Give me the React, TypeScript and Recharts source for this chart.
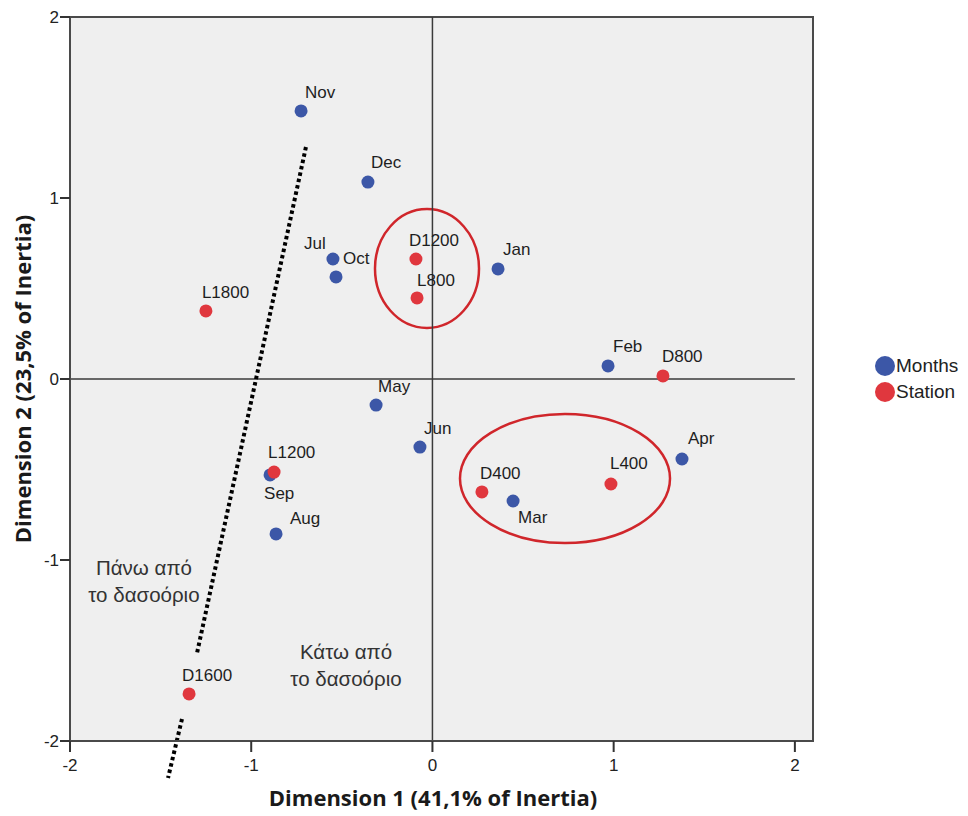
import React from 'react';
import { ScatterChart, Scatter, XAxis, YAxis, CartesianGrid, ReferenceLine, ReferenceArea, ReferenceDot } from 'recharts';

// correspondence analysis: months vs stations
const monthNames = ['Nov', 'Dec', 'Jul', 'Oct', 'Jan', 'Feb', 'May', 'Jun', 'Apr', 'Mar', 'Sep', 'Aug'];
const monthDim1 = [-0.725, -0.356, -0.549, -0.532, 0.362, 0.969, -0.311, -0.069, 1.377, 0.445, -0.896, -0.863];
const monthDim2 = [1.481, 1.088, 0.663, 0.564, 0.608, 0.072, -0.144, -0.376, -0.442, -0.674, -0.53, -0.856];

const stationNames = ['D1200', 'L800', 'L1800', 'D800', 'L1200', 'D400', 'L400', 'D1600'];
const stationDim1 = [-0.091, -0.085, -1.25, 1.272, -0.874, 0.273, 0.985, -1.343];
const stationDim2 = [0.663, 0.448, 0.376, 0.017, -0.514, -0.624, -0.58, -1.74];

const axisTicks = [-2, -1, 0, 1, 2];

// red ellipses around station groups
const groupDim1 = [[-0.317, 0.257], [0.152, 1.311]];
const groupDim2 = [[0.282, 0.939], [-0.906, -0.193]];

// timberline (dotted), drawn in two pieces with a gap near D1600
const timberlineUpper = [{ x: -0.698, y: 1.282 }, { x: -1.299, y: -1.514 }];
const timberlineLower = [{ x: -1.382, y: -1.878 }, { x: -1.459, y: -2.204 }];

const notes = [
  { x: -1.592, y: -1.122, lines: ['Πάνω από', 'το δασοόριο'] },
  { x: -0.477, y: -1.586, lines: ['Κάτω από', 'το δασοόριο'] },
];

const legendItems = [
  { label: 'Months', color: '#3c57a7' },
  { label: 'Station', color: '#e0373e' },
];

const monthData = monthNames.map((name, i) => ({ name, x: monthDim1[i], y: monthDim2[i] }));
const stationData = stationNames.map((name, i) => ({ name, x: stationDim1[i], y: stationDim2[i] }));

// label placement: [dx to text start, dy to text middle]
const labelOffset: Record<string, [number, number]> = {
  Nov: [4, -19], Dec: [3, -20], Jul: [-29, -16], Oct: [7, -19], Jan: [5, -20], Feb: [5, -20],
  May: [2, -19], Jun: [4, -19], Apr: [6, -21], Mar: [5, 16], Sep: [-6, 18], Aug: [14, -16],
  D1200: [-7, -19], L800: [0, -18], L1800: [-4, -19], D800: [-1, -20], L1200: [-6, -20],
  D400: [-2, -19], L400: [-1, -21], D1600: [-7, -19],
};

const FONT = '"Liberation Sans", Arial, sans-serif';
const TITLE_FONT = '"Open Sans", Arial, sans-serif';

const makeDot = (color: string) => (props: any) => {
  const { cx, cy, payload } = props;
  const [dx, dy] = labelOffset[payload.name] || [4, -18];
  return (
    <g>
      <circle cx={cx} cy={cy} r={6.5} fill={color} />
      <text x={cx + dx} y={cy + dy + 6} fontSize={17} fontFamily={FONT} fill="#1e1e1e">{payload.name}</text>
    </g>
  );
};

const Ellipse = (props: any) => {
  const { x, y, width, height } = props;
  return (
    <ellipse cx={x + width / 2} cy={y + height / 2} rx={width / 2} ry={height / 2}
      fill="none" stroke="#d0262b" strokeWidth={2.5} />
  );
};

export default function App() {
  return (
    <div style={{ position: 'absolute', left: 0, top: 0, width: 968, height: 816, background: '#fff' }}>
      <ScatterChart width={968} height={816} margin={{ top: 17, right: 155, bottom: 0, left: 0 }}>
        <CartesianGrid fill="#efefef" horizontal={false} vertical={false} />
        <XAxis type="number" dataKey="x" domain={[-2, 2.1]} ticks={axisTicks} allowDataOverflow
          height={75} tickSize={11} tickMargin={7}
          axisLine={{ stroke: '#4a4a4a', strokeWidth: 2 }} tickLine={{ stroke: '#333', strokeWidth: 2 }}
          tick={{ fill: '#222', fontSize: 17, fontFamily: FONT }}
          label={{
            content: () => (
              <text x={433} y={806} textAnchor="middle" fontSize={22} fontWeight="bold"
                fontFamily={TITLE_FONT} fill="#1a1a1a">Dimension 1 (41,1% of Inertia)</text>
            ),
          }} />
        <YAxis type="number" dataKey="y" domain={[-2, 2]} ticks={axisTicks} allowDataOverflow
          width={70} tickSize={10} tickMargin={1}
          axisLine={{ stroke: '#4a4a4a', strokeWidth: 2 }} tickLine={{ stroke: '#333', strokeWidth: 2 }}
          tick={{ fill: '#222', fontSize: 17, fontFamily: FONT }}
          label={{
            content: () => (
              <text x={0} y={0} transform="translate(31,379) rotate(-90)" textAnchor="middle" fontSize={22}
                fontWeight="bold" fontFamily={TITLE_FONT} fill="#1a1a1a">Dimension 2 (23,5% of Inertia)</text>
            ),
          }} />
        <ReferenceArea x1={-2} x2={2.1} y1={-2} y2={2} fill="none" stroke="#4a4a4a" strokeWidth={2} ifOverflow="visible" />
        <ReferenceLine x={0} stroke="#3a3a3a" strokeWidth={1.5} />
        <ReferenceLine segment={[{ x: -2, y: 0 }, { x: 2, y: 0 }]} stroke="#3a3a3a" strokeWidth={1.5} />
        <ReferenceLine segment={timberlineUpper} stroke="#000" strokeWidth={4} strokeDasharray="3.5 3" ifOverflow="visible" />
        <ReferenceLine segment={timberlineLower} stroke="#000" strokeWidth={4} strokeDasharray="3.5 3" ifOverflow="visible" />
        {groupDim1.map((g, i) => (
          <ReferenceArea key={i} x1={g[0]} x2={g[1]} y1={groupDim2[i][0]} y2={groupDim2[i][1]} shape={<Ellipse />} />
        ))}
        {notes.map((n, i) => (
          <ReferenceDot key={i} x={n.x} y={n.y} r={0} fill="none" stroke="none"
            label={{
              content: (p: any) => {
                const vb = p.viewBox || {};
                const cx = (vb.x || 0) + (vb.width || 0) / 2;
                const cy = (vb.y || 0) + (vb.height || 0) / 2;
                return (
                  <text textAnchor="middle" fontSize={20.5} fontFamily={FONT} fill="#333">
                    <tspan x={cx} y={cy - 7}>{n.lines[0]}</tspan>
                    <tspan x={cx} y={cy + 20}>{n.lines[1]}</tspan>
                  </text>
                );
              },
            }} />
        ))}
        <Scatter name="Months" data={monthData} fill="#3c57a7" isAnimationActive={false} shape={makeDot('#3c57a7')} />
        <Scatter name="Station" data={stationData} fill="#e0373e" isAnimationActive={false} shape={makeDot('#e0373e')} />
      </ScatterChart>
      <div style={{ position: 'absolute', left: 875, top: 353, fontFamily: FONT, fontSize: 19, color: '#222' }}>
        {legendItems.map((it) => (
          <div key={it.label} style={{ display: 'flex', alignItems: 'center', height: 26 }}>
            <span style={{ display: 'inline-block', width: 20, height: 20, borderRadius: 10, background: it.color, marginRight: 1 }} />
            {it.label}
          </div>
        ))}
      </div>
    </div>
  );
}
